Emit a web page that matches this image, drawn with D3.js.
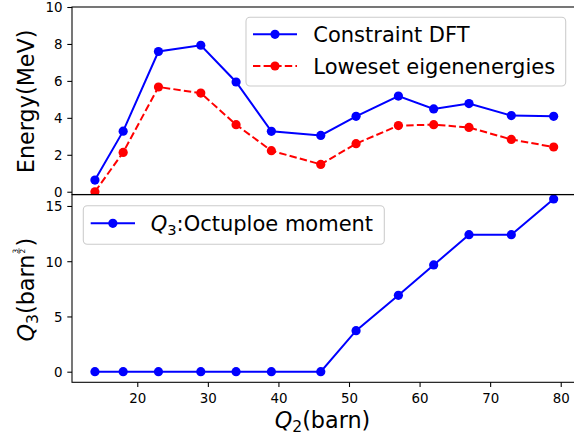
<!DOCTYPE html>
<html>
<head>
<meta charset="utf-8">
<script src="https://cdn.jsdelivr.net/npm/d3@7"></script>
<style>
  body { margin: 0; background: #fff; }
  svg { display: block; font-family: "DejaVu Sans", sans-serif; }
</style>
</head>
<body>
<div id="chart"></div>
<script>
// Q2 values (barn)
const q2 = [14, 18, 23, 29, 34, 39, 46, 51, 57, 62, 67, 73, 79];
// energies (MeV)
const dftEnergy = [0.63, 3.28, 7.59, 7.93, 5.94, 3.27, 3.05, 4.08, 5.18, 4.48, 4.77, 4.12, 4.08];
const lowestEigen = [0.0, 2.13, 5.67, 5.34, 3.63, 2.22, 1.48, 2.60, 3.58, 3.63, 3.48, 2.83, 2.42];
// octupole moment Q3
const q3 = [0, 0, 0, 0, 0, 0, 0, 3.71, 6.91, 9.66, 12.40, 12.40, 15.63];

const xTicks = [20, 30, 40, 50, 60, 70, 80];
const energyTicks = [0, 2, 4, 6, 8, 10];
const q3Ticks = [0, 5, 10, 15];

const W = 574, H = 435;
const left = 72, right = 576.6;
const topA = { y0: 7, y1: 194.5 };
const botA = { y0: 194.7, y1: 382.3 };

const svg = d3.select('#chart').append('svg')
  .attr('width', W)
  .attr('height', H);

const x = d3.scaleLinear().domain([10.75, 82.25]).range([left, right]);
const yTop = d3.scaleLinear().domain([-0.15, 10]).range([topA.y1, topA.y0]);
const yBot = d3.scaleLinear().domain([-0.96, 16.02]).range([botA.y1, botA.y0]);

const tickLen = 4.7, tickFont = 13.4;

// clip paths
const defs = svg.append('defs');
defs.append('clipPath').attr('id', 'clipTop').append('rect')
  .attr('x', left).attr('y', topA.y0).attr('width', right - left).attr('height', topA.y1 - topA.y0);
defs.append('clipPath').attr('id', 'clipBot').append('rect')
  .attr('x', left).attr('y', botA.y0).attr('width', right - left).attr('height', botA.y1 - botA.y0);

function styleAxis (g) {
  g.select('.domain').remove();
  g.selectAll('.tick line').attr('stroke', '#000').attr('stroke-width', 1.07);
  g.selectAll('.tick text').attr('fill', '#000').attr('font-size', tickFont)
    .attr('font-family', '"DejaVu Sans", sans-serif');
}

// ---------- top panel ----------
const gTop = svg.append('g');
const plotTop = gTop.append('g').attr('clip-path', 'url(#clipTop)');

const lineTop = (vals) => d3.line()
  .x((d, i) => x(q2[i]))
  .y(d => yTop(d))(vals);

plotTop.append('path').attr('d', lineTop(dftEnergy))
  .attr('fill', 'none').attr('stroke', '#0000ff').attr('stroke-width', 2);
plotTop.selectAll('.dft').data(dftEnergy).enter().append('circle')
  .attr('cx', (d, i) => x(q2[i])).attr('cy', d => yTop(d)).attr('r', 4.6).attr('fill', '#0000ff');

plotTop.append('path').attr('d', lineTop(lowestEigen))
  .attr('fill', 'none').attr('stroke', '#ff0000').attr('stroke-width', 2)
  .attr('stroke-dasharray', '7.4,3.2');
plotTop.selectAll('.eig').data(lowestEigen).enter().append('circle')
  .attr('cx', (d, i) => x(q2[i])).attr('cy', d => yTop(d)).attr('r', 4.6).attr('fill', '#ff0000');

gTop.append('g')
  .attr('transform', `translate(${left},0)`)
  .call(d3.axisLeft(yTop).tickValues(energyTicks).tickSize(tickLen).tickPadding(4.7).tickFormat(d3.format('d')))
  .call(styleAxis)
  .selectAll('.tick text').attr('dy', '0.36em');

// ---------- bottom panel ----------
const gBot = svg.append('g');
const plotBot = gBot.append('g').attr('clip-path', 'url(#clipBot)');

plotBot.append('path')
  .attr('d', d3.line().x((d, i) => x(q2[i])).y(d => yBot(d))(q3))
  .attr('fill', 'none').attr('stroke', '#0000ff').attr('stroke-width', 2);
plotBot.selectAll('.q3').data(q3).enter().append('circle')
  .attr('cx', (d, i) => x(q2[i])).attr('cy', d => yBot(d)).attr('r', 4.6).attr('fill', '#0000ff');

gBot.append('g')
  .attr('transform', `translate(${left},0)`)
  .call(d3.axisLeft(yBot).tickValues(q3Ticks).tickSize(tickLen).tickPadding(4.7).tickFormat(d3.format('d')))
  .call(styleAxis)
  .selectAll('.tick text').attr('dy', '0.36em');

gBot.append('g')
  .attr('transform', `translate(0,${botA.y1})`)
  .call(d3.axisBottom(x).tickValues(xTicks).tickSize(tickLen).tickPadding(4.7).tickFormat(d3.format('d')))
  .call(styleAxis)
  .selectAll('.tick text').attr('dy', '0.87em');

// spines
const spines = svg.append('g').attr('stroke', '#000').attr('stroke-width', 1.07).attr('fill', 'none');
spines.append('rect').attr('x', left).attr('y', topA.y0).attr('width', right - left).attr('height', topA.y1 - topA.y0);
spines.append('rect').attr('x', left).attr('y', botA.y0).attr('width', right - left).attr('height', botA.y1 - botA.y0);

// ---------- legends ----------
function legendBox (x0, y0, x1, y1) {
  svg.append('rect')
    .attr('x', x0).attr('y', y0).attr('width', x1 - x0).attr('height', y1 - y0)
    .attr('rx', 4).attr('ry', 4)
    .attr('fill', '#fff').attr('fill-opacity', 0.8)
    .attr('stroke', '#cccccc').attr('stroke-width', 1.07);
}
function legendHandle (x0, x1, y, color, dash) {
  svg.append('line').attr('x1', x0).attr('x2', x1).attr('y1', y).attr('y2', y)
    .attr('stroke', color).attr('stroke-width', 2).attr('stroke-dasharray', dash || null);
  svg.append('circle').attr('cx', (x0 + x1) / 2).attr('cy', y).attr('r', 4.6).attr('fill', color);
}

const legFont = 21;
legendBox(246, 17.3, 565.7, 86);
legendHandle(253, 297, 34.3, '#0000ff');
legendHandle(253, 297, 66, '#ff0000', '7.4,3.2');
svg.append('text').attr('x', 313.3).attr('y', 42).attr('font-size', legFont).text('Constraint DFT');
svg.append('text').attr('x', 313.3).attr('y', 73.7).attr('font-size', legFont).text('Loweset eigenenergies');

legendBox(83.3, 205.7, 384.3, 244.3);
legendHandle(90.7, 135, 223.3, '#0000ff');
const leg3 = svg.append('text').attr('x', 150.7).attr('y', 230.5).attr('font-size', legFont);
leg3.append('tspan').attr('font-style', 'italic').text('Q');
leg3.append('tspan').attr('font-size', 14.7).attr('dy', 4).text('3');
leg3.append('tspan').attr('dy', -4).text(':Octuploe moment');

// ---------- axis labels ----------
const labFont = 22.3;
svg.append('text')
  .attr('transform', 'translate(34.3,101.3) rotate(-90)')
  .attr('text-anchor', 'middle').attr('font-size', labFont)
  .text('Energy(MeV)');

const xl = svg.append('text').attr('x', 322.5).attr('y', 428)
  .attr('text-anchor', 'middle').attr('font-size', labFont);
xl.append('tspan').attr('font-style', 'italic').text('Q');
xl.append('tspan').attr('font-size', 15.6).attr('dy', 4.3).text('2');
xl.append('tspan').attr('dy', -4.3).text('(barn)');

// Q3(barn^(3/2)) rotated label built piece by piece
const ylg = svg.append('g');
const inner = ylg.append('g');
const t1 = inner.append('text').attr('x', 0).attr('y', 0).attr('font-size', labFont);
t1.append('tspan').attr('font-style', 'italic').text('Q');
t1.append('tspan').attr('font-size', 15.6).attr('dy', 4.3).text('3');
t1.append('tspan').attr('dy', -4.3).text('(barn');
const w1 = t1.node().getComputedTextLength();
const fx = w1 + 3.5;
inner.append('text').attr('x', fx).attr('y', -16.2).attr('font-size', 7.3).attr('text-anchor', 'middle').text('3');
inner.append('line').attr('x1', fx - 2.9).attr('x2', fx + 2.9).attr('y1', -15).attr('y2', -15)
  .attr('stroke', '#000').attr('stroke-width', 0.6);
inner.append('text').attr('x', fx).attr('y', -9.2).attr('font-size', 7.3).attr('text-anchor', 'middle').text('2');
const t2 = inner.append('text').attr('x', fx + 4.5).attr('y', 0).attr('font-size', labFont).text(')');
const wTot = fx + 4.5 + t2.node().getComputedTextLength();
inner.attr('transform', `translate(${-wTot / 2},0)`);
ylg.attr('transform', 'translate(34,289.7) rotate(-90)');
</script>
</body>
</html>
